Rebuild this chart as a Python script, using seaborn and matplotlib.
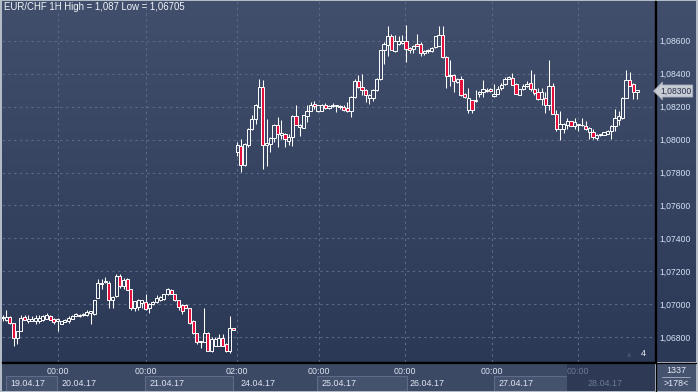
import numpy as np
import pandas as pd
import matplotlib
matplotlib.use("Agg")
import matplotlib.pyplot as plt
import seaborn as sns
from matplotlib.patches import Rectangle

# ---------------- data (EUR/CHF 1H candles) ----------------
open_ = [1.06918, 1.06908, 1.06925, 1.06888, 1.06796, 1.06837, 1.06925, 1.06898, 1.06902, 1.06898,
         1.06898, 1.06908, 1.06914, 1.06929, 1.06914, 1.06898, 1.06882, 1.06894, 1.06902, 1.06914,
         1.06929, 1.06929, 1.06939, 1.06935, 1.06949, 1.06945, 1.07041, 1.07133, 1.07137, 1.07133,
         1.07024, 1.07051, 1.07173, 1.07112, 1.07153, 1.07092, 1.06980, 1.06984, 1.07010, 1.07016,
         1.06980, 1.07004, 1.07016, 1.07024, 1.07031, 1.07061, 1.07086, 1.07061, 1.07024, 1.06996,
         1.06996, 1.06976, 1.06902, 1.06827, 1.06776, 1.06772, 1.06827, 1.06718, 1.06751, 1.06751,
         1.06796, 1.06759, 1.06718, 1.06857,
         1.07927, 1.07959, 1.07846, 1.07968, 1.08065, 1.08122, 1.08197, 1.08319, 1.07968, 1.07974,
         1.08010, 1.08089, 1.08029, 1.08035, 1.07994, 1.08014, 1.08142, 1.08075, 1.08069, 1.08142,
         1.08171, 1.08217, 1.08171, 1.08171, 1.08211, 1.08191, 1.08201, 1.08207, 1.08203, 1.08197,
         1.08191, 1.08171, 1.08258, 1.08353, 1.08319, 1.08303,
         1.08253, 1.08253, 1.08303, 1.08364, 1.08541, 1.08576, 1.08630, 1.08535, 1.08582, 1.08586,
         1.08596, 1.08556, 1.08549, 1.08582, 1.08582, 1.08525, 1.08535, 1.08535, 1.08560, 1.08570,
         1.08636, 1.08501, 1.08384, 1.08394, 1.08347, 1.08368, 1.08279, 1.08182, 1.08238, 1.08232,
         1.08279, 1.08287, 1.08303, 1.08307, 1.08263, 1.08279,
         1.08313, 1.08339, 1.08368, 1.08374, 1.08339, 1.08273, 1.08307, 1.08323, 1.08343, 1.08307,
         1.08287, 1.08246, 1.08253, 1.08212, 1.08327, 1.08152, 1.08061, 1.08061, 1.08091, 1.08111,
         1.08085, 1.08093, 1.08091, 1.08085, 1.08044, 1.08044, 1.08010, 1.08028, 1.08030, 1.08036,
         1.08051, 1.08085, 1.08121, 1.08131, 1.08253, 1.08360, 1.08339, 1.08291]
high = [1.06939, 1.06969, 1.06929, 1.06888, 1.06837, 1.06935, 1.06939, 1.06939, 1.06929, 1.06939,
        1.06935, 1.06935, 1.06949, 1.06935, 1.06918, 1.06918, 1.06902, 1.06914, 1.06929, 1.06935,
        1.06949, 1.06943, 1.06949, 1.06965, 1.06963, 1.07027, 1.07157, 1.07153, 1.07167, 1.07143,
        1.07051, 1.07184, 1.07184, 1.07163, 1.07163, 1.07092, 1.07020, 1.07031, 1.07027, 1.07061,
        1.07010, 1.07020, 1.07057, 1.07051, 1.07065, 1.07102, 1.07092, 1.07065, 1.07027, 1.07000,
        1.07000, 1.06980, 1.06908, 1.06827, 1.06776, 1.06980, 1.06830, 1.06800, 1.06800, 1.06820,
        1.06820, 1.06765, 1.06929, 1.06857,
        1.07984, 1.08004, 1.07978, 1.08069, 1.08146, 1.08217, 1.08370, 1.08359, 1.08126, 1.08014,
        1.08095, 1.08136, 1.08116, 1.08041, 1.08035, 1.08146, 1.08207, 1.08095, 1.08150, 1.08207,
        1.08227, 1.08232, 1.08211, 1.08217, 1.08223, 1.08211, 1.08223, 1.08209, 1.08211, 1.08207,
        1.08227, 1.08262, 1.08365, 1.08390, 1.08400, 1.08307,
        1.08279, 1.08307, 1.08374, 1.08545, 1.08590, 1.08687, 1.08642, 1.08636, 1.08630, 1.08636,
        1.08697, 1.08560, 1.08576, 1.08642, 1.08590, 1.08540, 1.08549, 1.08560, 1.08630, 1.08687,
        1.08687, 1.08505, 1.08485, 1.08398, 1.08374, 1.08384, 1.08283, 1.08313, 1.08242, 1.08299,
        1.08293, 1.08360, 1.08313, 1.08313, 1.08339, 1.08327,
        1.08343, 1.08380, 1.08388, 1.08404, 1.08343, 1.08307, 1.08339, 1.08354, 1.08424, 1.08400,
        1.08313, 1.08313, 1.08287, 1.08485, 1.08343, 1.08182, 1.08172, 1.08100, 1.08131, 1.08115,
        1.08131, 1.08097, 1.08131, 1.08111, 1.08075, 1.08061, 1.08034, 1.08034, 1.08048, 1.08057,
        1.08089, 1.08186, 1.08172, 1.08257, 1.08424, 1.08408, 1.08343, 1.08303]
low = [1.06898, 1.06898, 1.06882, 1.06751, 1.06761, 1.06837, 1.06908, 1.06888, 1.06898, 1.06882,
       1.06888, 1.06902, 1.06914, 1.06908, 1.06882, 1.06837, 1.06882, 1.06894, 1.06888, 1.06914,
       1.06929, 1.06925, 1.06929, 1.06929, 1.06882, 1.06939, 1.07037, 1.07092, 1.07133, 1.06980,
       1.06980, 1.07045, 1.07102, 1.07092, 1.07086, 1.06969, 1.06959, 1.06969, 1.06980, 1.06969,
       1.06949, 1.06996, 1.07010, 1.07020, 1.07027, 1.07057, 1.07061, 1.07020, 1.06969, 1.06943,
       1.06976, 1.06882, 1.06820, 1.06761, 1.06735, 1.06772, 1.06718, 1.06710, 1.06751, 1.06751,
       1.06745, 1.06712, 1.06705, 1.06847,
       1.07899, 1.07801, 1.07842, 1.07953, 1.08060, 1.08095, 1.08190, 1.07821, 1.07842, 1.07923,
       1.07984, 1.07953, 1.08004, 1.07953, 1.07964, 1.07959, 1.08089, 1.08024, 1.08069, 1.08106,
       1.08171, 1.08187, 1.08167, 1.08171, 1.08187, 1.08183, 1.08197, 1.08167, 1.08187, 1.08171,
       1.08167, 1.08136, 1.08250, 1.08315, 1.08272, 1.08227,
       1.08218, 1.08232, 1.08293, 1.08360, 1.08455, 1.08509, 1.08541, 1.08530, 1.08576, 1.08582,
       1.08469, 1.08525, 1.08525, 1.08565, 1.08509, 1.08515, 1.08525, 1.08530, 1.08556, 1.08565,
       1.08497, 1.08313, 1.08323, 1.08287, 1.08343, 1.08263, 1.08253, 1.08162, 1.08158, 1.08226,
       1.08259, 1.08259, 1.08287, 1.08289, 1.08259, 1.08275,
       1.08303, 1.08333, 1.08365, 1.08333, 1.08279, 1.08269, 1.08299, 1.08319, 1.08293, 1.08273,
       1.08242, 1.08212, 1.08158, 1.08182, 1.08152, 1.08051, 1.08000, 1.08040, 1.08061, 1.08081,
       1.08065, 1.08051, 1.08083, 1.08057, 1.08004, 1.08004, 1.08000, 1.08024, 1.08026, 1.08032,
       1.08004, 1.08051, 1.08091, 1.08127, 1.08249, 1.08323, 1.08246, 1.08246]
close = [1.06922, 1.06925, 1.06888, 1.06796, 1.06837, 1.06918, 1.06908, 1.06914, 1.06914, 1.06918,
         1.06918, 1.06929, 1.06935, 1.06908, 1.06894, 1.06914, 1.06898, 1.06908, 1.06918, 1.06929,
         1.06943, 1.06939, 1.06943, 1.06955, 1.06959, 1.07024, 1.07133, 1.07127, 1.07143, 1.07024,
         1.07045, 1.07173, 1.07112, 1.07147, 1.07086, 1.06980, 1.07020, 1.07027, 1.07024, 1.06973,
         1.07004, 1.07014, 1.07037, 1.07045, 1.07065, 1.07092, 1.07065, 1.07024, 1.06984, 1.06963,
         1.06980, 1.06888, 1.06827, 1.06772, 1.06772, 1.06827, 1.06718, 1.06792, 1.06792, 1.06796,
         1.06751, 1.06718, 1.06857, 1.06847,
         1.07968, 1.07846, 1.07974, 1.08065, 1.08122, 1.08207, 1.08319, 1.07964, 1.07978, 1.08010,
         1.08089, 1.08035, 1.08041, 1.08004, 1.08014, 1.08142, 1.08089, 1.08089, 1.08146, 1.08171,
         1.08211, 1.08203, 1.08207, 1.08211, 1.08191, 1.08201, 1.08207, 1.08205, 1.08197, 1.08181,
         1.08171, 1.08258, 1.08353, 1.08319, 1.08299, 1.08272,
         1.08273, 1.08303, 1.08368, 1.08541, 1.08582, 1.08630, 1.08541, 1.08596, 1.08596, 1.08596,
         1.08549, 1.08541, 1.08570, 1.08570, 1.08525, 1.08535, 1.08545, 1.08556, 1.08626, 1.08636,
         1.08501, 1.08384, 1.08394, 1.08354, 1.08368, 1.08267, 1.08259, 1.08253, 1.08182, 1.08242,
         1.08287, 1.08307, 1.08293, 1.08293, 1.08279, 1.08307,
         1.08333, 1.08368, 1.08380, 1.08333, 1.08279, 1.08307, 1.08327, 1.08339, 1.08307, 1.08283,
         1.08246, 1.08287, 1.08212, 1.08327, 1.08152, 1.08065, 1.08097, 1.08097, 1.08111, 1.08085,
         1.08105, 1.08091, 1.08087, 1.08061, 1.08071, 1.08016, 1.08030, 1.08032, 1.08044, 1.08051,
         1.08085, 1.08131, 1.08141, 1.08253, 1.08360, 1.08327, 1.08287, 1.08299]

price_ticks = [1.068, 1.070, 1.072, 1.074, 1.076, 1.078, 1.080, 1.082, 1.084, 1.086]
time_labels = ["00:00", "00:00", "02:00", "00:00", "00:00", "00:00", "00:00"]
time_pos = [15.1, 39.0, 63.9, 86.2, 109.8, 133.5, 157.0]
date_labels = ["19.04.17", "20.04.17", "21.04.17", "24.04.17", "25.04.17", "26.04.17", "27.04.17", "28.04.17"]
date_pos = [2.0, 16.0, 40.0, 64.8, 86.9, 111.1, 135.1, 159.4]
boxed_days = [(1.0, 14.9), (38.9, 62.9), (85.8, 110.3), (134.0, 153.9)]
title = "EUR/CHF 1H High = 1,087 Low = 1,06705"
last_price = 1.08300

df = pd.DataFrame({"open": open_, "high": high, "low": low, "close": close})
df["i"] = np.arange(len(df))

# ---------------- styling ----------------
sns.set_theme(style="dark")
plt.rcParams["font.family"] = ["Liberation Sans", "DejaVu Sans"]

W, H = 698, 392
fig = plt.figure(figsize=(W / 100, H / 100), dpi=100, facecolor="#b3bbc7")

def fpos(x0, y0, x1, y1):
    return [x0 / W, 1 - y1 / H, (x1 - x0) / W, (y1 - y0) / H]

# gradient background behind plot + right panel
bg = fig.add_axes(fpos(2, 1, 696, 362))
top_c = np.array([65, 79, 108]) / 255
bot_c = np.array([43, 56, 86]) / 255
t = np.linspace(0, 1, 256)[:, None]
grad = (top_c[None, :] * (1 - t) + bot_c[None, :] * t)[:, None, :]
bg.imshow(grad, aspect="auto", extent=[0, 1, 0, 1], origin="upper")
bg.set_axis_off()

XL = (-0.14, 177.9)
YL = (1.06651, 1.08840)

ax = fig.add_axes(fpos(2, 1, 655, 362))
ax.set_facecolor("none")
ax.set_xlim(*XL)
ax.set_ylim(*YL)

grid_c = "#5a6987"
for p in price_ticks:
    ax.axhline(p, color=grid_c, lw=0.8, dashes=(2.2, 3), zorder=1)
for p in time_pos:
    ax.axvline(p, color=grid_c, lw=0.8, dashes=(2.2, 3), zorder=1)

# candles
up = df["close"] >= df["open"]
body_lo = df[["open", "close"]].min(axis=1)
body_hi = df[["open", "close"]].max(axis=1)
body_h = (body_hi - body_lo).clip(lower=0.00002)
ax.vlines(df["i"], df["low"], body_lo, color="white", lw=0.75, zorder=2)
ax.vlines(df["i"], body_lo + body_h, df["high"], color="white", lw=0.75, zorder=2)
ax.bar(df["i"][up], body_h[up], bottom=body_lo[up], width=0.86,
       facecolor="none", edgecolor="white", linewidth=0.7, zorder=3)
ax.bar(df["i"][~up], body_h[~up], bottom=body_lo[~up], width=0.86,
       facecolor="#e3103e", edgecolor="white", linewidth=0.7, zorder=3)

ax.yaxis.tick_right()
ax.set_yticks(price_ticks)
ax.set_yticklabels([f"{p:.5f}".replace(".", ",") for p in price_ticks])
ax.tick_params(axis="y", length=0, pad=3.5, labelsize=6.2, labelcolor="#d6e2f6")
ax.set_xticks([])
for s in ["left", "top"]:
    ax.spines[s].set_visible(False)
for s in ["right", "bottom"]:
    ax.spines[s].set_color("black")
    ax.spines[s].set_linewidth(1.0)
ax.grid(False)

# "4" marker in bottom-right of plot
ax.text(0.986, 0.012, "4", transform=ax.transAxes, ha="right", va="bottom",
        color="#e6ecf6", fontsize=6.5)
ax.text(0.963, 0.014, "\u25b2", transform=ax.transAxes, ha="right", va="bottom",
        color="#46536e", fontsize=4, family=["DejaVu Sans"])

# current price tag
fig.text(660 / W, 1 - 91 / H, f"{last_price:.5f}".replace(".", ","), ha="left", va="center",
         fontsize=6.2, color="#27324a",
         bbox=dict(boxstyle="larrow,pad=0.18", fc="#c6cbd4", ec="#a4abb7", lw=0.5))

# title
fig.text(4 / W, 1 - 7.5 / H, title, ha="left", va="center", color="#f2f5fa", fontsize=6.9)

# bottom time axis panel
bx = fig.add_axes(fpos(2, 363, 655, 391))
bx.set_facecolor("#3c4965")
bx.set_xlim(*XL)
bx.set_ylim(0, 1)
bx.set_xticks([])
bx.set_yticks([])
for s in bx.spines.values():
    s.set_visible(False)
for a, b in boxed_days:
    bx.add_patch(Rectangle((a, 0.0), b - a, 0.54, fc="#45526e", ec="#5e6c89", lw=0.8))
bx.add_patch(Rectangle((153.9, 0.0), XL[1] - 153.9, 1.0, fc="#2e3a55", ec="none"))
for lab, p in zip(time_labels, time_pos):
    c = "#6d7a94" if p > 153.9 else "#dfe6f2"
    bx.text(p, 0.70, lab, ha="center", va="center", fontsize=6.4, color=c)
for lab, p in zip(date_labels, date_pos):
    c = "#6d7a94" if p > 153.9 else "#dfe6f2"
    bx.text(p, 0.27, lab, ha="left", va="center", fontsize=6.4, color=c)

# bottom-right info panel
rx = fig.add_axes(fpos(656, 363, 696, 391))
rx.set_facecolor("#46536f")
rx.set_xlim(0, 1)
rx.set_ylim(0, 1)
rx.set_xticks([])
rx.set_yticks([])
for s in rx.spines.values():
    s.set_visible(False)
rx.text(0.5, 0.74, "1337", ha="center", va="center", fontsize=6.4, color="#e6ecf6")
rx.plot([0.15, 0.85], [0.5, 0.5], color="#a9b3c4", lw=0.6)
rx.text(0.5, 0.26, ">178<", ha="center", va="center", fontsize=6.4, color="#e6ecf6")

# black separator lines
fig.add_artist(plt.Line2D([655.5 / W, 655.5 / W], [1 - 391 / H, 1 - 1 / H], color="black", lw=0.9))
fig.add_artist(plt.Line2D([2 / W, 696 / W], [1 - 362.5 / H, 1 - 362.5 / H], color="black", lw=0.9))

fig.savefig("out.png", dpi=100, facecolor=fig.get_facecolor())
